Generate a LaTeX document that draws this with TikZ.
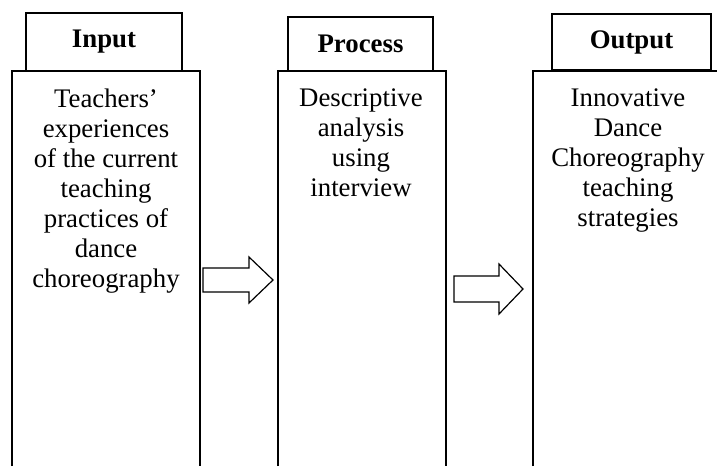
\documentclass[tikz,border=0pt]{standalone}
\usepackage{fontspec}
\setmainfont{Liberation Serif}

\begin{document}
\begin{tikzpicture}[x=0.5pt,y=-0.5pt,thick,
  head node/.style={draw,line width=1pt,inner sep=0pt,font=\bfseries\fontsize{13.4}{15}\selectfont},
  body text/.style={align=center,anchor=north,inner sep=0pt,font=\fontsize{13.4}{15}\selectfont},
  body line/.style={line width=0.8pt},
  flow arrow/.style={draw,line width=0.6pt,line join=miter}]
    \useasboundingbox (0,0) rectangle (717,466);

    % headers
    \node[head node,minimum width=78pt,minimum height=29pt] (input) at (104,42) {Input};
    \node[head node,minimum width=72.5pt,minimum height=27pt] (process) at (360.5,44) {Process};
    \node[head node,minimum width=79.5pt,minimum height=28pt] (output) at (631.5,42) {Output};

    % bodies
    \draw[body line] (12,466) |- (200,71) -- (200,466);
    \draw[body line] (278,466) |- (446,71) -- (446,466);
    \draw[body line] (533,466) |- (717,71);

    \node[body text] (inputtext) at (106,88) {Teachers'\\experiences\\of the current\\teaching\\practices of\\dance\\choreography};
    \node[body text] (processtext) at (361,88) {Descriptive\\analysis\\using\\interview};
    \node[body text] (outputtext) at (628,88) {Innovative\\Dance\\Choreography\\teaching\\strategies};

    % arrows
    \coordinate (arrow1) at (203,268);
    \coordinate (arrow2) at (454,276);
    \draw[flow arrow] (arrow1) -- ++(46,0) -- ++(0,-11) -- ++(24,23) -- ++(-24,23) -- ++(0,-11) -- ++(-46,0) -- cycle;
    \draw[flow arrow] (arrow2) -- ++(45,0) -- ++(0,-12) -- ++(24,25) -- ++(-24,25) -- ++(0,-12) -- ++(-45,0) -- cycle;
\end{tikzpicture}
\end{document}
